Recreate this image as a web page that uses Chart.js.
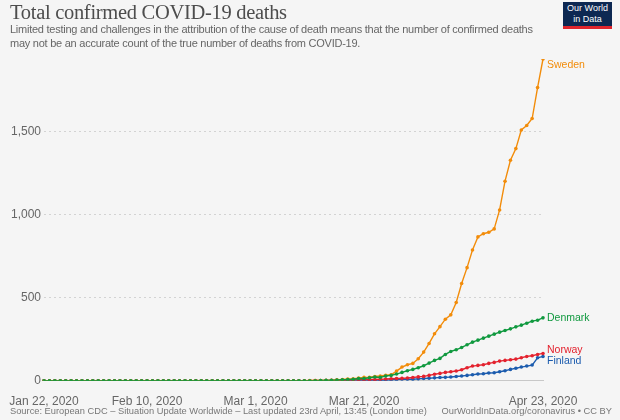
<!DOCTYPE html>
<html>
<head>
<meta charset="utf-8">
<script src="https://cdn.jsdelivr.net/npm/chart.js@4.4.1/dist/chart.umd.min.js"></script>
<style>
  html, body { margin: 0; padding: 0; background: #f5f5f5; }
  #wrap { position: relative; width: 620px; height: 420px; overflow: hidden; font-family: "Liberation Sans", Arial, sans-serif; }
  #title { position: absolute; left: 10px; top: 1px; font-family: "Liberation Serif", "DejaVu Serif", serif; font-size: 20.5px; letter-spacing: -0.3px; color: #4d4d4d; white-space: nowrap; }
  #subtitle { position: absolute; left: 10px; top: 22px; font-size: 11px; letter-spacing: -0.25px; line-height: 14px; color: #666; white-space: nowrap; }
  #logo { position: absolute; left: 563px; top: 2px; width: 49px; height: 23px; background: #0d2852; border-bottom: 3px solid #e0252d; color: #fff; font-size: 9px; line-height: 10.5px; text-align: center; padding-top: 1px; }
  #source { position: absolute; left: 10px; top: 406px; font-size: 9.3px; color: #777; white-space: nowrap; }
  #credit { position: absolute; right: 8px; top: 406px; font-size: 9.3px; color: #777; white-space: nowrap; }
  #chart { position: absolute; left: 0; top: 0; }
</style>
</head>
<body>
<div id="wrap">
  <canvas id="chart" width="620" height="420"></canvas>
  <div id="title">Total confirmed COVID-19 deaths</div>
  <div id="subtitle">Limited testing and challenges in the attribution of the cause of death means that the number of confirmed deaths<br>may not be an accurate count of the true number of deaths from COVID-19.</div>
  <div id="logo">Our World<br>in Data</div>
  <div id="source">Source: European CDC – Situation Update Worldwide – Last updated 23rd April, 13:45 (London time)</div>
  <div id="credit">OurWorldInData.org/coronavirus • CC BY</div>
</div>
<script>
// daily dates, Jan 22 .. Apr 23 2020
const months = ["Jan", "Feb", "Mar", "Apr"];
const dates = [];
for (let d = new Date(2020, 0, 22); d <= new Date(2020, 3, 23); d.setDate(d.getDate() + 1)) {
  dates.push(months[d.getMonth()] + " " + d.getDate() + ", 2020");
}
const tickLabels = ["Jan 22, 2020", "Feb 10, 2020", "Mar 1, 2020", "Mar 21, 2020", "Apr 23, 2020"];
const yTicks = [0, 500, 1000, 1500];

const sweden = [
  0, 0, 0, 0, 0, 0, 0, 0, 0, 0,
  0, 0, 0, 0, 0, 0, 0, 0, 0, 0,
  0, 0, 0, 0, 0, 0, 0, 0, 0, 0,
  0, 0, 0, 0, 0, 0, 0, 0, 0, 0,
  0, 0, 0, 0, 0, 0, 0, 0, 0, 1,
  1, 1, 2, 3, 6, 7, 10, 11, 16, 20,
  21, 25, 28, 33, 36, 58, 82, 96, 104, 132,
  172, 224, 282, 325, 370, 396, 470, 585, 680, 786,
  865, 884, 893, 913, 1027, 1200, 1326, 1396, 1508, 1535,
  1577, 1763, 1935
];
const denmark = [
  0, 0, 0, 0, 0, 0, 0, 0, 0, 0,
  0, 0, 0, 0, 0, 0, 0, 0, 0, 0,
  0, 0, 0, 0, 0, 0, 0, 0, 0, 0,
  0, 0, 0, 0, 0, 0, 0, 0, 0, 0,
  0, 0, 0, 0, 0, 0, 0, 0, 0, 0,
  0, 1, 2, 3, 4, 6, 7, 9, 13, 13,
  18, 22, 20, 28, 32, 40, 50, 60, 68, 78,
  90, 106, 122, 134, 158, 176, 186, 200, 216, 232,
  244, 256, 268, 280, 292, 302, 312, 324, 334, 346,
  358, 364, 378
];
const norway = [
  0, 0, 0, 0, 0, 0, 0, 0, 0, 0,
  0, 0, 0, 0, 0, 0, 0, 0, 0, 0,
  0, 0, 0, 0, 0, 0, 0, 0, 0, 0,
  0, 0, 0, 0, 0, 0, 0, 0, 0, 0,
  0, 0, 0, 0, 0, 0, 0, 0, 0, 0,
  1, 1, 1, 3, 3, 3, 4, 6, 7, 7,
  7, 7, 9, 10, 12, 13, 14, 16, 19, 23,
  26, 32, 39, 44, 50, 54, 58, 66, 78, 88,
  92, 96, 104, 110, 118, 122, 126, 130, 138, 146,
  150, 158, 164
];
const finland = [
  0, 0, 0, 0, 0, 0, 0, 0, 0, 0,
  0, 0, 0, 0, 0, 0, 0, 0, 0, 0,
  0, 0, 0, 0, 0, 0, 0, 0, 0, 0,
  0, 0, 0, 0, 0, 0, 0, 0, 0, 0,
  0, 0, 0, 0, 0, 0, 0, 0, 0, 0,
  0, 0, 0, 0, 0, 0, 0, 0, 0, 1,
  1, 1, 1, 3, 5, 7, 9, 9, 9, 11,
  13, 15, 17, 19, 20, 22, 25, 28, 32, 36,
  40, 42, 46, 48, 54, 60, 68, 75, 82, 88,
  94, 138, 146
];

// end-of-line country labels
const endLabels = {
  id: "endLabels",
  afterDatasetsDraw(chart) {
    const ctx = chart.ctx;
    ctx.save();
    ctx.font = "10.5px 'Liberation Sans', Arial, sans-serif";
    ctx.textBaseline = "middle";
    chart.data.datasets.forEach((ds, i) => {
      const pts = chart.getDatasetMeta(i).data;
      const p = pts[pts.length - 1];
      ctx.fillStyle = ds.borderColor;
      ctx.fillText(ds.label, p.x + 4, p.y + ds.labelShift);
    });
    ctx.restore();
  }
};

function series(label, data, color, shift) {
  return {
    label, data,
    borderColor: color,
    backgroundColor: color,
    borderWidth: 1.4,
    pointRadius: 1.8,
    pointBorderWidth: 0,
    tension: 0,
    labelShift: shift
  };
}

new Chart(document.getElementById("chart"), {
  type: "line",
  data: {
    labels: dates,
    datasets: [
      series("Denmark", denmark, "#10993f", 0),
      series("Sweden", sweden, "#f28c0a", 6),
      series("Norway", norway, "#e3222e", -3),
      series("Finland", finland, "#1c5cae", 5)
    ]
  },
  options: {
    responsive: false,
    animation: false,
    layout: { padding: { top: 59, right: 77, bottom: 0, left: 0 } },
    plugins: { legend: { display: false }, tooltip: { enabled: false } },
    scales: {
      x: {
        grid: { display: false },
        border: { display: true, color: "#c8c8c8" },
        afterFit(s) { s.height = 39.3; },
        ticks: {
          autoSkip: false,
          maxRotation: 0,
          padding: 6,
          color: "#666",
          font: { family: "'Liberation Sans', Arial, sans-serif", size: 12 },
          callback(v) {
            const t = this.getLabelForValue(v);
            return tickLabels.includes(t) ? t : null;
          }
        }
      },
      y: {
        min: 0,
        max: Math.max(...sweden),
        afterFit(s) { s.width = 44; },
        afterBuildTicks(s) { s.ticks = yTicks.map(v => ({ value: v })); },
        border: { display: false, dash: [2, 3] },
        grid: {
          drawTicks: false,
          color: c => c.tick && c.tick.value === 0 ? "rgba(0,0,0,0)" : "#d3d3d3"
        },
        ticks: {
          padding: 3,
          color: "#666",
          font: { family: "'Liberation Sans', Arial, sans-serif", size: 12 },
          callback: v => v.toLocaleString("en-US")
        }
      }
    }
  },
  plugins: [endLabels]
});
</script>
</body>
</html>
